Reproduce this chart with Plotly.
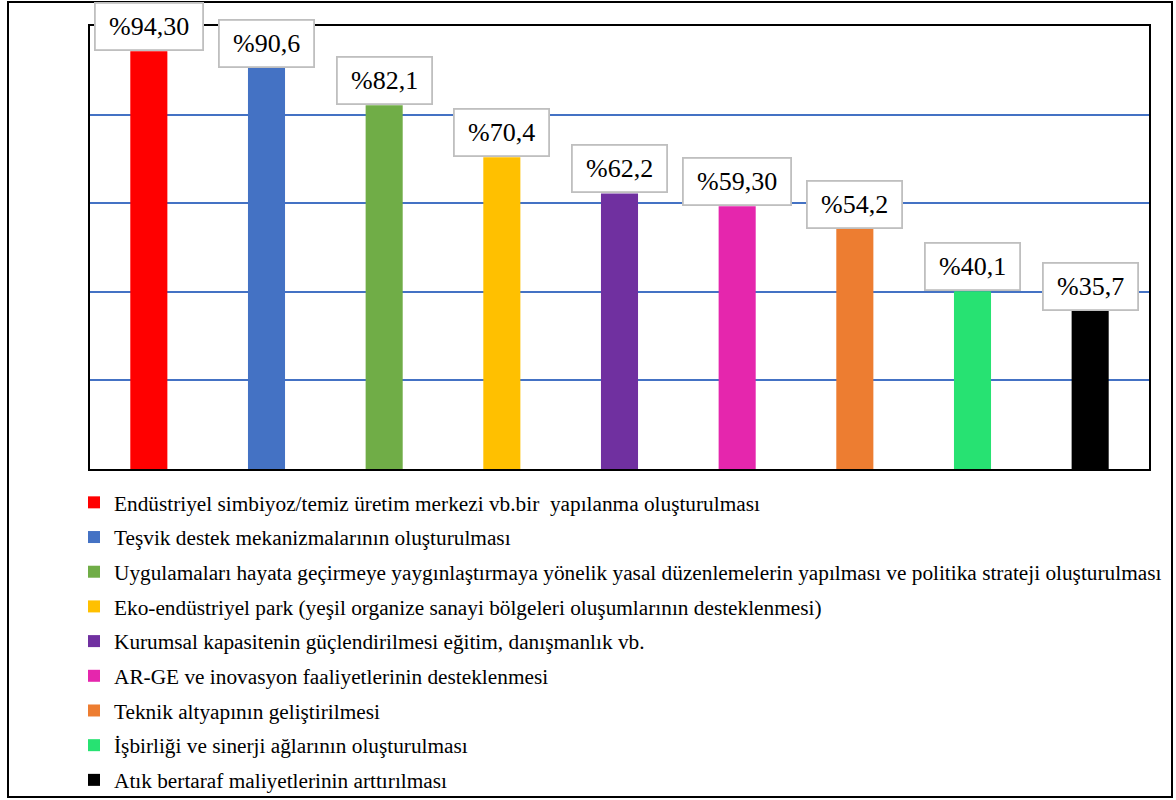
import plotly.graph_objects as go

# Survey results: share of respondents for each proposed measure
categories = [
    "Endüstriyel simbiyoz/temiz üretim merkezi vb.bir  yapılanma oluşturulması",
    "Teşvik destek mekanizmalarının oluşturulması",
    "Uygulamaları hayata geçirmeye yaygınlaştırmaya yönelik yasal düzenlemelerin yapılması ve politika strateji oluşturulması",
    "Eko-endüstriyel park (yeşil organize sanayi bölgeleri oluşumlarının desteklenmesi)",
    "Kurumsal kapasitenin güçlendirilmesi eğitim, danışmanlık vb.",
    "AR-GE ve inovasyon faaliyetlerinin desteklenmesi",
    "Teknik altyapının geliştirilmesi",
    "İşbirliği ve sinerji ağlarının oluşturulması",
    "Atık bertaraf maliyetlerinin arttırılması",
]
values = [94.30, 90.6, 82.1, 70.4, 62.2, 59.30, 54.2, 40.1, 35.7]
value_labels = ["%94,30", "%90,6", "%82,1", "%70,4", "%62,2", "%59,30", "%54,2", "%40,1", "%35,7"]
colors = ["#FF0000", "#4472C4", "#70AD47", "#FFC000", "#7030A0",
          "#E526AD", "#ED7D31", "#27E272", "#000000"]

W, H = 1176, 800
PL, PR, PT, PB = 90, 1149, 26, 469          # plot area in pixels
PW, PH = PR - PL, PB - PT
FONT = "Liberation Serif, Times New Roman, serif"
THIN = "\u2009"

fig = go.Figure()
for i, (cat, val, col) in enumerate(zip(categories, values, colors)):
    fig.add_trace(go.Bar(
        x=[i], y=[val], name=cat, marker=dict(color=col, line=dict(width=0)),
        width=0.315, legendgroup=f"g{i}",
    ))
    fig.add_annotation(
        x=i, y=val, text=THIN + value_labels[i] + THIN, showarrow=False,
        xanchor="center", yanchor="bottom", yshift=0,
        font=dict(family=FONT, size=26, color="black"),
        bgcolor="white", bordercolor="#BFBFBF", borderwidth=1.8, borderpad=8,
    )

def px_x(p):
    return (p - PL) / PW

def px_y(p):
    return (PB - p) / PH

# outer frame around the whole figure
fig.add_shape(type="rect", xref="paper", yref="paper",
              x0=px_x(8), x1=px_x(1172), y0=px_y(797), y1=px_y(2),
              line=dict(color="black", width=2), layer="below")

fig.update_layout(
    width=W, height=H,
    margin=dict(l=PL, r=W - PR, t=PT, b=H - PB, autoexpand=False),
    paper_bgcolor="white", plot_bgcolor="white",
    barmode="overlay",
    font=dict(family=FONT, color="black"),
    showlegend=True,
    legend=dict(
        orientation="v", x=px_x(74), y=px_y(482), xanchor="left", yanchor="top",
        font=dict(family=FONT, size=21.3, color="black"),
        tracegroupgap=4, bgcolor="rgba(0,0,0,0)",
    ),
    xaxis=dict(range=[-0.5, 8.5], showticklabels=False, showgrid=False, zeroline=False,
               showline=True, mirror=True, linecolor="black", linewidth=2, ticks=""),
    yaxis=dict(range=[0, 100], tickvals=[20, 40, 60, 80], showticklabels=False,
               showgrid=True, gridcolor="#4472C4", gridwidth=1.5, zeroline=False,
               showline=True, mirror=True, linecolor="black", linewidth=2, ticks=""),
)

fig.write_html("out.html")
